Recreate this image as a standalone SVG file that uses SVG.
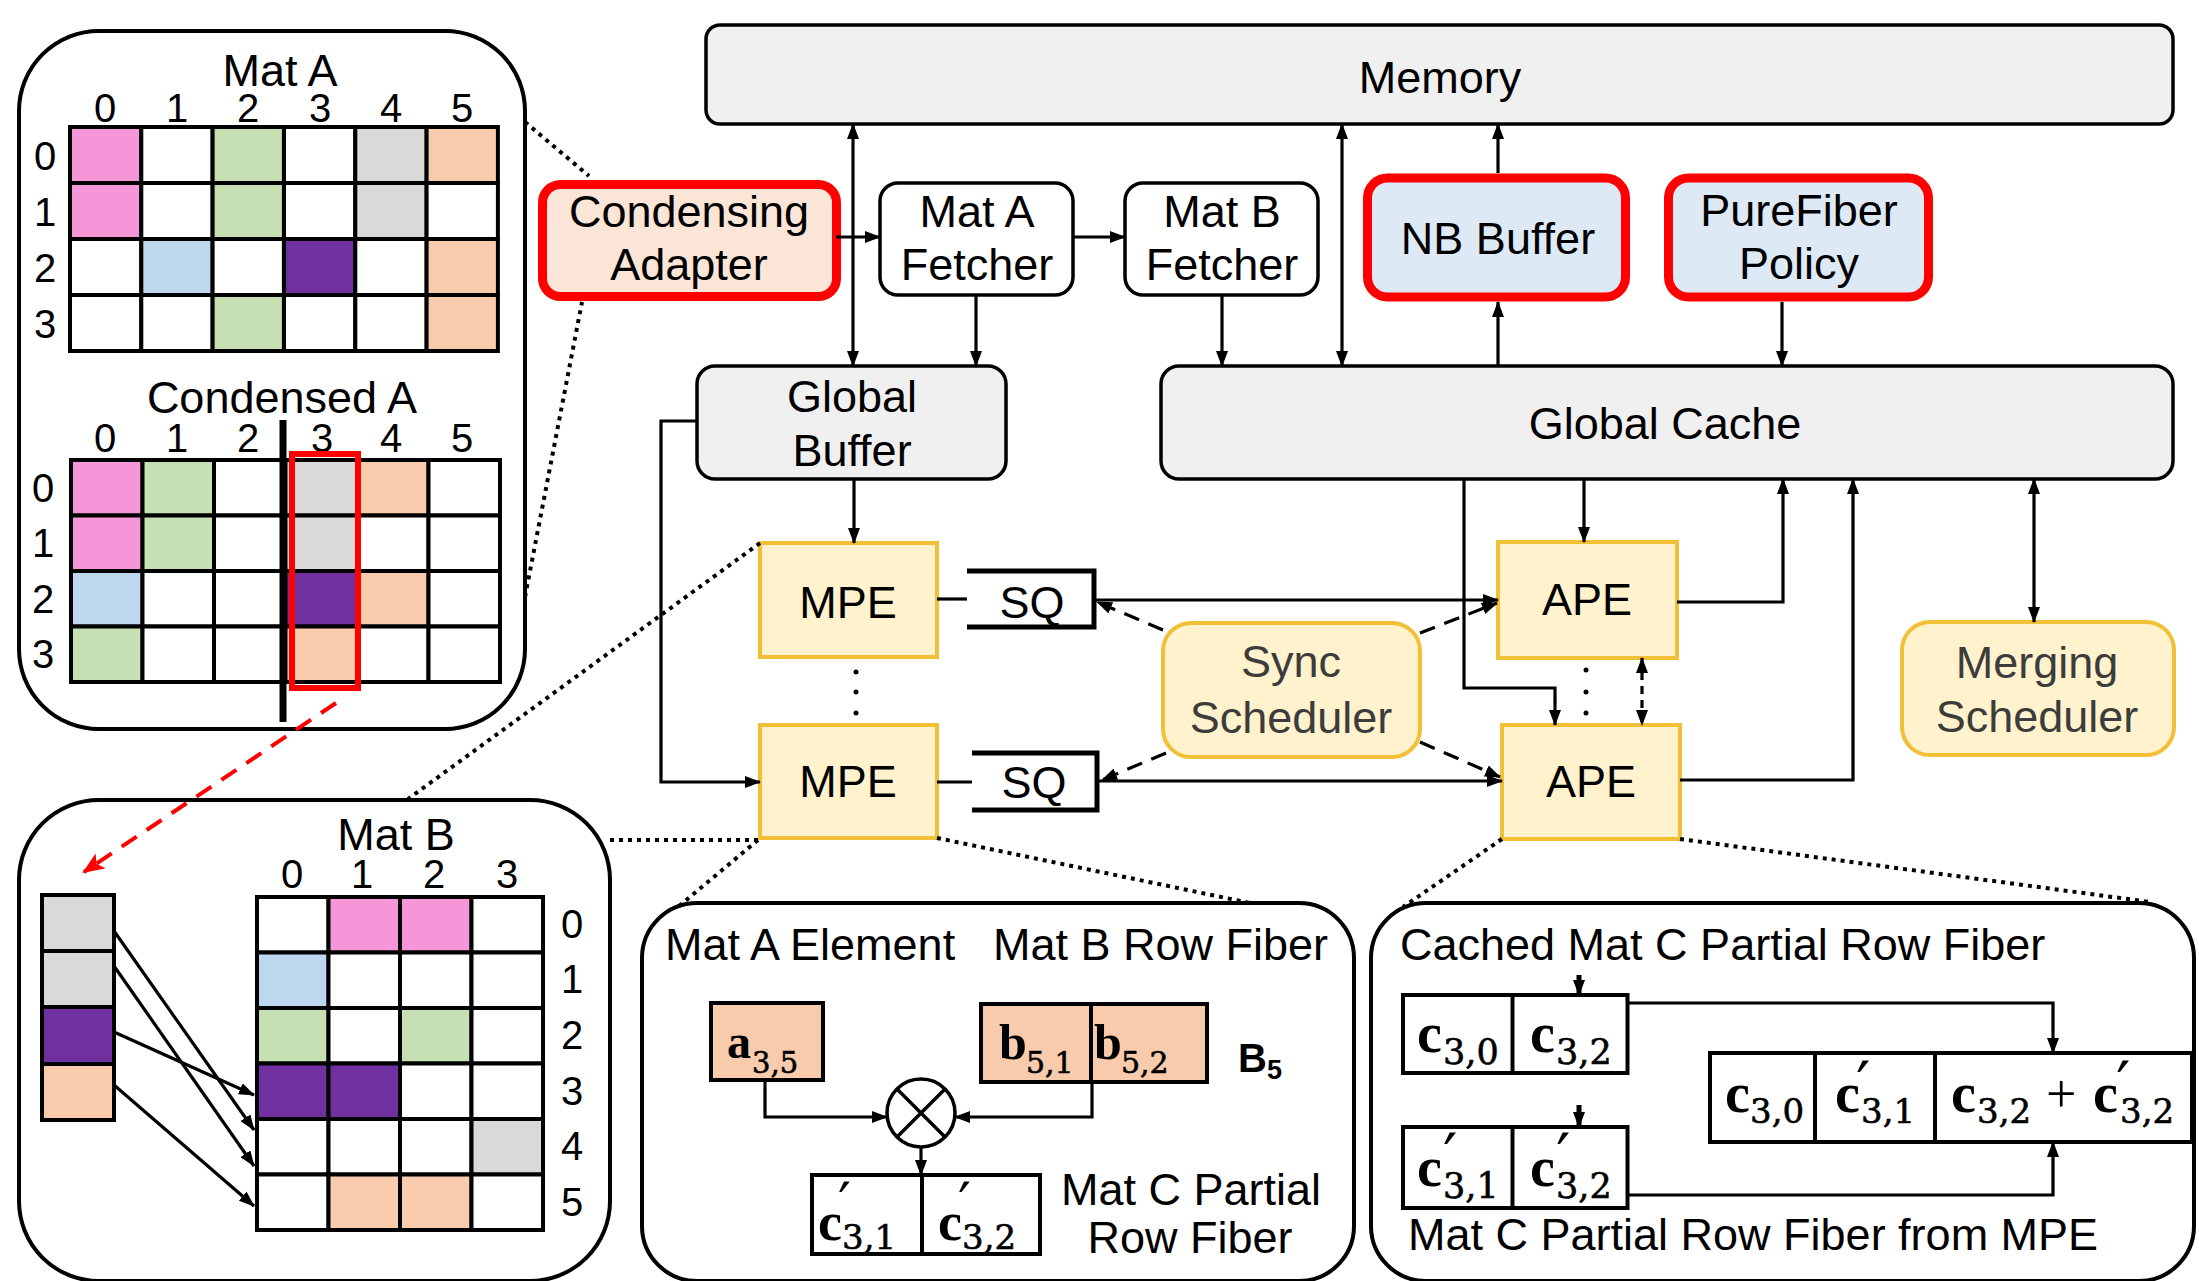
<svg xmlns="http://www.w3.org/2000/svg" width="2199" height="1281" viewBox="0 0 2199 1281">
<defs>
<marker id="ah" markerWidth="16" markerHeight="12" refX="15" refY="6" orient="auto-start-reverse" markerUnits="userSpaceOnUse"><path d="M0,0 L16,6 L0,12 z" fill="#000"/></marker>
<marker id="ahr" markerWidth="22" markerHeight="18" refX="20" refY="9" orient="auto" markerUnits="userSpaceOnUse"><path d="M0,0 L22,9 L0,18 L5,9 z" fill="#f00"/></marker>
</defs>
<style>
.t{font-family:"Liberation Sans",Arial,sans-serif;font-size:45px;fill:#000;text-anchor:middle}
.st{text-anchor:start}
.lab{font-size:40px}
.g{fill:#3c3c3c}
.box{fill:#f0f0f0;stroke:#000;stroke-width:3.5}
.wbox{fill:#fff;stroke:#000;stroke-width:3.5}
.red{stroke:#f00;stroke-width:9}
.pe{fill:#fff2cc;stroke:#f2c037;stroke-width:4}
.ln{fill:none;stroke:#000;stroke-width:3.2}
.arr{marker-end:url(#ah)}
.bi{marker-start:url(#ah);marker-end:url(#ah)}
.dash{stroke-dasharray:16 10}
.dot{fill:none;stroke:#000;stroke-width:4;stroke-dasharray:4 5}
.cell{stroke:#000;stroke-width:4}
.panel{fill:none;stroke:#000;stroke-width:4}
.mc{font-family:"Liberation Serif","Times New Roman",serif;font-weight:bold}
.ms{font-family:"DejaVu Serif",serif;stroke:#000;stroke-width:0.6}
.pr{font-family:"DejaVu Serif",serif}
.w{fill:#fff}.pk{fill:#f596d8}.gn{fill:#c6e0b4}.gy{fill:#d9d9d9}.pc{fill:#f8cbad}.bl{fill:#bdd7ee}.pu{fill:#7030a0}
</style>

<g id="panel-matA">
<rect class="panel" x="19" y="31" width="506" height="698" rx="80"/>
<text class="t" x="280" y="86">Mat A</text>
<g class="t lab">
<text x="105" y="122">0</text><text x="177" y="122">1</text><text x="248" y="122">2</text><text x="320" y="122">3</text><text x="391" y="122">4</text><text x="462" y="122">5</text>
<text x="45" y="170">0</text><text x="45" y="226">1</text><text x="45" y="282">2</text><text x="45" y="338">3</text>
</g>
<g class="cell">
<rect class="pk" x="70" y="127" width="71.3" height="56"/><rect class="w" x="141.3" y="127" width="71.3" height="56"/><rect class="gn" x="212.6" y="127" width="71.3" height="56"/><rect class="w" x="284" y="127" width="71.3" height="56"/><rect class="gy" x="355.3" y="127" width="71.3" height="56"/><rect class="pc" x="426.6" y="127" width="71.3" height="56"/>
<rect class="pk" x="70" y="183" width="71.3" height="56"/><rect class="w" x="141.3" y="183" width="71.3" height="56"/><rect class="gn" x="212.6" y="183" width="71.3" height="56"/><rect class="w" x="284" y="183" width="71.3" height="56"/><rect class="gy" x="355.3" y="183" width="71.3" height="56"/><rect class="w" x="426.6" y="183" width="71.3" height="56"/>
<rect class="w" x="70" y="239" width="71.3" height="56"/><rect class="bl" x="141.3" y="239" width="71.3" height="56"/><rect class="w" x="212.6" y="239" width="71.3" height="56"/><rect class="pu" x="284" y="239" width="71.3" height="56"/><rect class="w" x="355.3" y="239" width="71.3" height="56"/><rect class="pc" x="426.6" y="239" width="71.3" height="56"/>
<rect class="w" x="70" y="295" width="71.3" height="56"/><rect class="w" x="141.3" y="295" width="71.3" height="56"/><rect class="gn" x="212.6" y="295" width="71.3" height="56"/><rect class="w" x="284" y="295" width="71.3" height="56"/><rect class="w" x="355.3" y="295" width="71.3" height="56"/><rect class="pc" x="426.6" y="295" width="71.3" height="56"/>
</g>
<text class="t" x="282" y="413">Condensed A</text>
<g class="t lab">
<text x="105" y="452">0</text><text x="177" y="452">1</text><text x="248" y="452">2</text><text x="322" y="452">3</text><text x="391" y="452">4</text><text x="462" y="452">5</text>
<text x="43" y="502">0</text><text x="43" y="557">1</text><text x="43" y="613">2</text><text x="43" y="668">3</text>
</g>
<g class="cell">
<rect class="pk" x="71" y="460" width="71.5" height="55.5"/><rect class="gn" x="142.5" y="460" width="71.5" height="55.5"/><rect class="w" x="214" y="460" width="71.5" height="55.5"/><rect class="gy" x="285.5" y="460" width="71.5" height="55.5"/><rect class="pc" x="357" y="460" width="71.5" height="55.5"/><rect class="w" x="428.5" y="460" width="71.5" height="55.5"/>
<rect class="pk" x="71" y="515.5" width="71.5" height="55.5"/><rect class="gn" x="142.5" y="515.5" width="71.5" height="55.5"/><rect class="w" x="214" y="515.5" width="71.5" height="55.5"/><rect class="gy" x="285.5" y="515.5" width="71.5" height="55.5"/><rect class="w" x="357" y="515.5" width="71.5" height="55.5"/><rect class="w" x="428.5" y="515.5" width="71.5" height="55.5"/>
<rect class="bl" x="71" y="571" width="71.5" height="55.5"/><rect class="w" x="142.5" y="571" width="71.5" height="55.5"/><rect class="w" x="214" y="571" width="71.5" height="55.5"/><rect class="pu" x="285.5" y="571" width="71.5" height="55.5"/><rect class="pc" x="357" y="571" width="71.5" height="55.5"/><rect class="w" x="428.5" y="571" width="71.5" height="55.5"/>
<rect class="gn" x="71" y="626.5" width="71.5" height="55.5"/><rect class="w" x="142.5" y="626.5" width="71.5" height="55.5"/><rect class="w" x="214" y="626.5" width="71.5" height="55.5"/><rect class="pc" x="285.5" y="626.5" width="71.5" height="55.5"/><rect class="w" x="357" y="626.5" width="71.5" height="55.5"/><rect class="w" x="428.5" y="626.5" width="71.5" height="55.5"/>
</g>
<line x1="283" y1="420" x2="283" y2="722" stroke="#000" stroke-width="7"/>
<rect x="292" y="454" width="66" height="234" fill="none" stroke="#f00" stroke-width="6"/>
</g>

<g id="panel-matB">
<rect class="panel" x="19" y="800" width="591" height="481" rx="80"/>
<text class="t" x="396" y="850">Mat B</text>
<g class="t lab">
<text x="292" y="888">0</text><text x="362" y="888">1</text><text x="434" y="888">2</text><text x="507" y="888">3</text>
<text x="572" y="938">0</text><text x="572" y="993">1</text><text x="572" y="1049">2</text><text x="572" y="1105">3</text><text x="572" y="1160">4</text><text x="572" y="1216">5</text>
</g>
<g class="cell">
<rect class="w" x="257" y="897" width="71.5" height="55.5"/><rect class="pk" x="328.5" y="897" width="71.5" height="55.5"/><rect class="pk" x="400" y="897" width="71.5" height="55.5"/><rect class="w" x="471.5" y="897" width="71.5" height="55.5"/>
<rect class="bl" x="257" y="952.5" width="71.5" height="55.5"/><rect class="w" x="328.5" y="952.5" width="71.5" height="55.5"/><rect class="w" x="400" y="952.5" width="71.5" height="55.5"/><rect class="w" x="471.5" y="952.5" width="71.5" height="55.5"/>
<rect class="gn" x="257" y="1008" width="71.5" height="55.5"/><rect class="w" x="328.5" y="1008" width="71.5" height="55.5"/><rect class="gn" x="400" y="1008" width="71.5" height="55.5"/><rect class="w" x="471.5" y="1008" width="71.5" height="55.5"/>
<rect class="pu" x="257" y="1063.5" width="71.5" height="55.5"/><rect class="pu" x="328.5" y="1063.5" width="71.5" height="55.5"/><rect class="w" x="400" y="1063.5" width="71.5" height="55.5"/><rect class="w" x="471.5" y="1063.5" width="71.5" height="55.5"/>
<rect class="w" x="257" y="1119" width="71.5" height="55.5"/><rect class="w" x="328.5" y="1119" width="71.5" height="55.5"/><rect class="w" x="400" y="1119" width="71.5" height="55.5"/><rect class="gy" x="471.5" y="1119" width="71.5" height="55.5"/>
<rect class="w" x="257" y="1174.5" width="71.5" height="55.5"/><rect class="pc" x="328.5" y="1174.5" width="71.5" height="55.5"/><rect class="pc" x="400" y="1174.5" width="71.5" height="55.5"/><rect class="w" x="471.5" y="1174.5" width="71.5" height="55.5"/>
<rect class="gy" x="42" y="895" width="72" height="56"/><rect class="gy" x="42" y="951" width="72" height="56"/><rect class="pu" x="42" y="1007" width="72" height="57"/><rect class="pc" x="42" y="1064" width="72" height="56"/>
</g>
<g class="ln arr">
<line x1="114" y1="931" x2="254" y2="1130"/>
<line x1="114" y1="966" x2="254" y2="1166"/>
<line x1="114" y1="1032" x2="254" y2="1095"/>
<line x1="114" y1="1085" x2="254" y2="1206"/>
</g>
</g>

<g id="memory"><rect class="box" x="706" y="25" width="1467" height="99" rx="14"/><text class="t" x="1440" y="93">Memory</text></g>
<g id="condensing-adapter"><rect class="red" fill="#fbe5d6" x="542.5" y="184.5" width="294" height="112" rx="18"/><text class="t" x="689" y="227">Condensing</text><text class="t" x="689" y="280">Adapter</text></g>
<g id="mat-a-fetcher"><rect class="wbox" x="880" y="183" width="193" height="112" rx="18"/><text class="t" x="977" y="227">Mat A</text><text class="t" x="977" y="280">Fetcher</text></g>
<g id="mat-b-fetcher"><rect class="wbox" x="1125" y="183" width="193" height="112" rx="18"/><text class="t" x="1222" y="227">Mat B</text><text class="t" x="1222" y="280">Fetcher</text></g>
<g id="nb-buffer"><rect class="red" fill="#dde9f5" x="1367.5" y="178" width="258" height="119" rx="20"/><text class="t" x="1498" y="254">NB Buffer</text></g>
<g id="purefiber-policy"><rect class="red" fill="#dde9f5" x="1668.5" y="178" width="260" height="119" rx="20"/><text class="t" x="1799" y="226" fill="#333f50">PureFiber</text><text class="t" x="1799" y="279" fill="#333f50">Policy</text></g>
<g id="global-buffer"><rect class="box" x="697" y="366" width="309" height="113" rx="18"/><text class="t" x="852" y="412">Global</text><text class="t" x="852" y="466">Buffer</text></g>
<g id="global-cache"><rect class="box" x="1161" y="366" width="1012" height="113" rx="18"/><text class="t" x="1665" y="439">Global Cache</text></g>
<g id="mpe1"><rect class="pe" x="760" y="543" width="177" height="114"/><text class="t" x="848" y="618">MPE</text></g>
<g id="mpe2"><rect class="pe" x="760" y="725" width="177" height="113"/><text class="t" x="848" y="797">MPE</text></g>
<g id="sq1"><path d="M967 571H1094V627H967" fill="none" stroke="#000" stroke-width="5"/><text class="t" x="1032" y="618">SQ</text></g>
<g id="sq2"><path d="M972 753H1097V810H972" fill="none" stroke="#000" stroke-width="5"/><text class="t" x="1034" y="798">SQ</text></g>
<g id="sync-scheduler"><rect class="pe" x="1163" y="623" width="257" height="134" rx="28"/><text class="t g" x="1291" y="677">Sync</text><text class="t g" x="1291" y="733">Scheduler</text></g>
<g id="ape1"><rect class="pe" x="1498" y="542" width="179" height="116"/><text class="t" x="1587" y="615">APE</text></g>
<g id="ape2"><rect class="pe" x="1502" y="725" width="178" height="114"/><text class="t" x="1591" y="797">APE</text></g>
<g id="merging-scheduler"><rect class="pe" x="1902" y="622" width="272" height="133" rx="28"/><text class="t g" x="2037" y="678">Merging</text><text class="t g" x="2037" y="732">Scheduler</text></g>

<g id="panel-mpe">
<rect class="panel" x="642" y="903" width="712" height="378" rx="55"/>
<text class="t st" x="665" y="960">Mat A Element</text>
<text class="t st" x="993" y="960">Mat B Row Fiber</text>
<rect class="cell pc" x="711" y="1003" width="112" height="77"/>
<rect class="cell pc" x="981" y="1004" width="226" height="78"/><line x1="1091" y1="1004" x2="1091" y2="1082" stroke="#000" stroke-width="4"/>
<text class="mc" font-size="48" x="727" y="1058">a</text><text class="ms" font-size="29" x="752" y="1073">3,5</text>
<text class="mc" font-size="50" x="999" y="1059">b</text><text class="ms" font-size="30" x="1026" y="1073">5,1</text>
<text class="mc" font-size="50" x="1094" y="1059">b</text><text class="ms" font-size="30" x="1121" y="1073">5,2</text>
<text x="1238" y="1072" font-family="Liberation Sans,Arial,sans-serif" font-weight="bold" font-size="40">B</text><text x="1267" y="1079" font-family="Liberation Sans,Arial,sans-serif" font-weight="bold" font-size="27">5</text>
<circle cx="921" cy="1113" r="34" fill="#fff" stroke="#000" stroke-width="3.5"/>
<path d="M897 1089L945 1137M945 1089L897 1137" stroke="#000" stroke-width="3.5"/>
<path class="ln arr" d="M765 1080V1117H887"/>
<path class="ln arr" d="M1092 1082V1117H955"/>
<path class="ln arr" d="M921 1147V1175"/>
<rect class="cell w" x="812" y="1175" width="228" height="79"/><line x1="922" y1="1175" x2="922" y2="1254" stroke="#000" stroke-width="4"/>
<text class="mc" font-size="54" x="818" y="1240">c</text><text class="pr" font-size="58" x="838" y="1224">′</text><text class="ms" font-size="34" x="842" y="1249">3,1</text>
<text class="mc" font-size="54" x="938" y="1240">c</text><text class="pr" font-size="58" x="958" y="1224">′</text><text class="ms" font-size="34" x="962" y="1249">3,2</text>
<text class="t st" x="1061" y="1205">Mat C Partial</text>
<text class="t" x="1190" y="1253">Row Fiber</text>
</g>

<g id="panel-ape">
<rect class="panel" x="1371" y="903" width="823" height="378" rx="55"/>
<text class="t st" x="1400" y="960">Cached Mat C Partial Row Fiber</text>
<rect class="cell w" x="1403" y="995" width="224.5" height="78"/><line x1="1512.5" y1="995" x2="1512.5" y2="1073" stroke="#000" stroke-width="4"/>
<text class="mc" font-size="56" x="1417" y="1052">c</text><text class="ms" font-size="35" x="1443" y="1064">3,0</text>
<text class="mc" font-size="56" x="1530" y="1052">c</text><text class="ms" font-size="35" x="1556" y="1064">3,2</text>
<rect class="cell w" x="1403" y="1127" width="224.5" height="81"/><line x1="1512.5" y1="1127" x2="1512.5" y2="1208" stroke="#000" stroke-width="4"/>
<text class="mc" font-size="56" x="1417" y="1186">c</text><text class="pr" font-size="64" x="1443" y="1179">′</text><text class="ms" font-size="35" x="1443" y="1198">3,1</text>
<text class="mc" font-size="56" x="1530" y="1186">c</text><text class="pr" font-size="64" x="1556" y="1179">′</text><text class="ms" font-size="35" x="1556" y="1198">3,2</text>
<rect class="cell w" x="1710" y="1053" width="482" height="89"/><line x1="1815" y1="1053" x2="1815" y2="1142" stroke="#000" stroke-width="4"/><line x1="1935" y1="1053" x2="1935" y2="1142" stroke="#000" stroke-width="4"/>
<text class="mc" font-size="56" x="1725" y="1112">c</text><text class="ms" font-size="34" x="1750" y="1123">3,0</text>
<text class="mc" font-size="56" x="1835" y="1112">c</text><text class="pr" font-size="64" x="1856" y="1107">′</text><text class="ms" font-size="34" x="1861" y="1123">3,1</text>
<text class="mc" font-size="56" x="1951" y="1112">c</text><text class="ms" font-size="34" x="1977" y="1123">3,2</text>
<text x="2046" y="1112" font-family="Liberation Serif,serif" font-size="54">+</text>
<text class="mc" font-size="56" x="2093" y="1112">c</text><text class="pr" font-size="64" x="2116" y="1107">′</text><text class="ms" font-size="34" x="2120" y="1123">3,2</text>
<path class="arr" d="M1579 975V995" stroke="#000" stroke-width="5"/>
<path class="arr" d="M1579 1105V1127" stroke="#000" stroke-width="5"/>
<path class="ln arr" d="M1627.5 1003H2053V1053"/>
<path class="ln arr" d="M1627.5 1195H2053V1142"/>
<text class="t st" x="1408" y="1250">Mat C Partial Row Fiber from MPE</text>
</g>

<g id="connectors">
<g class="ln">
<path class="bi" d="M853 124V366"/>
<path class="arr" d="M836 237H880"/>
<path class="arr" d="M1073 237H1125"/>
<path class="arr" d="M976 295V366"/>
<path class="arr" d="M1222 295V366"/>
<path class="bi" d="M1342 124V366"/>
<path class="arr" d="M1498 173V124"/>
<path class="arr" d="M1498 366V302"/>
<path class="arr" d="M1782 302V366"/>
<path class="arr" d="M854 479V543"/>
<path class="arr" d="M697 421H661V782H760"/>
<path d="M937 599H967"/>
<path class="arr" d="M1094 600H1498"/>
<path d="M937 782H972"/>
<path class="arr" d="M1097 781H1502"/>
<path class="arr" d="M1584 479V542"/>
<path class="arr" d="M1464 479V688H1555V725"/>
<path class="arr" d="M1677 602H1783V479"/>
<path class="arr" d="M1680 780H1853V479"/>
<path class="bi" d="M2034 479V622"/>
<path class="bi" d="M1642 658V725" stroke-dasharray="8 6"/>
<path class="arr dash" d="M1163 630L1097 602"/>
<path class="arr dash" d="M1420 633L1497 603"/>
<path class="arr dash" d="M1166 753L1102 780"/>
<path class="arr dash" d="M1420 742L1500 777"/>
</g>
<g fill="#000"><circle cx="856" cy="672" r="2.5"/><circle cx="856" cy="692" r="2.5"/><circle cx="856" cy="713" r="2.5"/><circle cx="1586" cy="670" r="2.5"/><circle cx="1586" cy="692" r="2.5"/><circle cx="1586" cy="713" r="2.5"/></g>
<g class="dot">
<path d="M525 122L589 176"/>
<path d="M525 597L582 302"/>
<path d="M760 543L408 799"/>
<path d="M758 840H610"/>
<path d="M758 840L678 907"/>
<path d="M937 838L1250 903"/>
<path d="M1502 839L1403 907"/>
<path d="M1680 839L2150 902"/>
</g>
<path d="M336 703L84 872" fill="none" stroke="#f00" stroke-width="4" stroke-dasharray="18 12" marker-end="url(#ahr)"/>
</g>
</svg>
